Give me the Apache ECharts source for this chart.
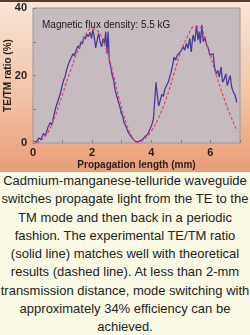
<!DOCTYPE html>
<html>
<head>
<meta charset="utf-8">
<script src="https://cdn.jsdelivr.net/npm/echarts@6/dist/echarts.min.js"></script>
<style>
  html, body { margin: 0; padding: 0; width: 250px; height: 335px; overflow: hidden; background: #fbfae4; }
  .top-bar { height: 2px; background: #5a3b2c; }
  .chart { width: 250px; height: 170px; }
  .caption {
    width: 250px; height: 163px;
    font-family: "Liberation Sans", Arial, sans-serif;
    font-size: 13px; line-height: 18.3px;
    color: #222; text-align: center;
    background: #fbfae4;
  }
</style>
</head>
<body>
<div class="top-bar"></div>
<div class="chart" id="chart"></div>
<div class="caption">Cadmium-manganese-telluride waveguide switches propagate light from the TE to the TM mode and then back in a periodic fashion. The experimental TE/TM ratio (solid line) matches well with theoretical results (dashed line). At less than 2-mm transmission distance, mode switching with approximately 34% efficiency can be achieved.</div>
<script>
// measured TE/TM ratio (solid line)
const measuredX = [0.05, 0.12, 0.2, 0.27, 0.35, 0.42, 0.5, 0.58, 0.64, 0.7, 0.77, 0.83, 0.9, 0.96, 1.03, 1.08, 1.13, 1.2, 1.25, 1.3,
  1.36, 1.4, 1.46, 1.52, 1.57, 1.62, 1.67, 1.72, 1.77, 1.82, 1.87, 1.93, 1.98, 2.02, 2.07, 2.12, 2.17, 2.22, 2.27, 2.32,
  2.37, 2.42, 2.46, 2.5, 2.54, 2.58, 2.63, 2.68, 2.73, 2.78, 2.83, 2.88, 2.93, 2.98, 3.03, 3.08, 3.14, 3.2, 3.27, 3.35,
  3.42, 3.5, 3.58, 3.65, 3.72, 3.8, 3.88, 3.95, 4.02, 4.07, 4.12, 4.16, 4.2, 4.25, 4.3, 4.36, 4.41, 4.46, 4.52, 4.57,
  4.62, 4.67, 4.72, 4.77, 4.82, 4.88, 4.93, 4.98, 5.03, 5.08, 5.13, 5.19, 5.24, 5.3, 5.35, 5.41, 5.47, 5.53, 5.58, 5.62,
  5.66, 5.71, 5.76, 5.81, 5.87, 5.93, 5.98, 6.04, 6.09, 6.14, 6.2, 6.25, 6.3, 6.36, 6.41, 6.47, 6.52, 6.57, 6.62, 6.67,
  6.72, 6.78, 6.84, 6.89]
const measuredY = [0.5, 0.3, 1.5, 1.0, 2.8, 2.2, 4.5, 6.0, 5.4, 8.0, 10.5, 11.0, 14.0, 16.0, 18.5, 19.5, 21.5, 23.5, 23.0, 25.5,
  26.5, 25.8, 27.5, 28.8, 28.0, 30.0, 29.3, 31.5, 30.8, 32.2, 31.5, 32.8, 31.0, 33.5, 31.5, 28.2, 30.5, 32.5, 30.0, 28.5,
  31.0, 29.5, 33.0, 26.5, 33.0, 24.5, 22.5, 20.0, 18.5, 15.5, 14.0, 12.5, 11.0, 9.0, 8.0, 6.0, 5.0, 3.5, 2.5, 1.5,
  0.8, 0.3, 0.5, 0.8, 1.2, 2.0, 2.6, 4.0, 5.5, 7.0, 13.0, 18.0, 14.5, 11.0, 12.5, 14.5, 13.8, 16.0, 16.5, 18.0,
  19.5, 21.0, 23.0, 25.5, 24.5, 26.0, 25.5, 27.0, 26.5, 28.5, 27.5, 29.5, 28.0, 31.0, 27.0, 32.0, 30.0, 34.8, 30.5, 33.0,
  29.5, 35.0, 30.0, 31.5, 29.0, 28.0, 26.0, 25.5, 26.5, 22.5, 20.5, 21.5, 19.5, 22.5, 18.0, 19.0, 20.5, 17.0, 16.5, 20.0,
  16.5, 15.0, 14.0, 12.0]

// theoretical TE/TM ratio (dashed line)
const theoryX = [0.13, 0.3, 0.5, 0.75, 1.0, 1.25, 1.5, 1.75, 1.95, 2.15, 2.45, 2.7, 2.9, 3.15, 3.35, 3.55,
  3.75, 4.0, 4.25, 4.5, 4.75, 5.0, 5.25, 5.45, 5.6, 5.85, 6.2, 6.55, 6.9]
const theoryY = [0, 1, 3, 8, 14.5, 21, 27, 31.5, 33.8, 33.5, 28.5, 21, 13.5, 6, 1.8, 0,
  1, 3.5, 7.5, 13, 20, 27, 32, 34.5, 34.5, 30, 20, 11, 3.5]

const xTicks = [0, 2, 4, 6]
const yTicks = [0, 20, 40]

const chart = echarts.init(document.getElementById('chart'))
chart.setOption({
  backgroundColor: new echarts.graphic.LinearGradient(0, 0, 0, 1, [
    { offset: 0, color: '#f8e6d8' },
    { offset: 0.55, color: '#f2c3a5' },
    { offset: 1, color: '#ea9d78' }
  ]),
  animation: false,
  title: {
    text: 'Magnetic flux density: 5.5 kG',
    left: 37,
    top: 13,
    textStyle: { fontFamily: 'Liberation Sans', fontSize: 10, fontWeight: 'normal', color: '#1e1a1c' }
  },
  grid: {
    left: 33, top: 6, width: 207, height: 135,
    containLabel: false,
    outerBoundsMode: 'none',
    show: true,
    backgroundColor: '#c6bcc0',
    borderColor: '#a1979c',
    borderWidth: 1
  },
  xAxis: {
    type: 'value',
    min: 0, max: 7, interval: 1,
    name: 'Propagation length (mm)',
    nameLocation: 'middle',
    nameGap: 17,
    nameMoveOverlap: false,
    nameTextStyle: { fontFamily: 'Liberation Sans', fontSize: 10, fontWeight: 'bold', color: '#2a1e1a' },
    axisLine: { show: false },
    axisTick: { inside: true, length: 3, lineStyle: { color: '#8a8085' } },
    splitLine: { show: false },
    axisLabel: {
      margin: 4,
      fontFamily: 'Liberation Sans', fontSize: 11, fontWeight: 'bold', color: '#2a1e1a',
      formatter: v => xTicks.includes(v) ? String(v) : ''
    }
  },
  yAxis: {
    type: 'value',
    min: 0, max: 40, interval: 10,
    name: 'TE/TM ratio (%)',
    nameLocation: 'middle',
    nameGap: 20,
    nameMoveOverlap: false,
    nameRotate: 90,
    nameTextStyle: { fontFamily: 'Liberation Sans', fontSize: 10, fontWeight: 'bold', color: '#2a1e1a' },
    axisLine: { show: false },
    axisTick: { inside: true, length: 3, lineStyle: { color: '#8a8085' } },
    splitLine: { show: false },
    axisLabel: {
      margin: 6,
      fontFamily: 'Liberation Sans', fontSize: 11, fontWeight: 'bold', color: '#2a1e1a',
      formatter: v => yTicks.includes(v) ? String(v) : ''
    }
  },
  series: [
    {
      type: 'line',
      data: measuredX.map((x, i) => [x, measuredY[i]]),
      showSymbol: false,
      lineStyle: { color: '#4a3a9a', width: 1.3 },
      z: 2
    },
    {
      type: 'line',
      data: theoryX.map((x, i) => [x, theoryY[i]]),
      smooth: 0.4,
      showSymbol: false,
      lineStyle: { color: '#e2416c', width: 1.2, type: [3, 2] },
      z: 3
    }
  ]
})
</script>
</body>
</html>
